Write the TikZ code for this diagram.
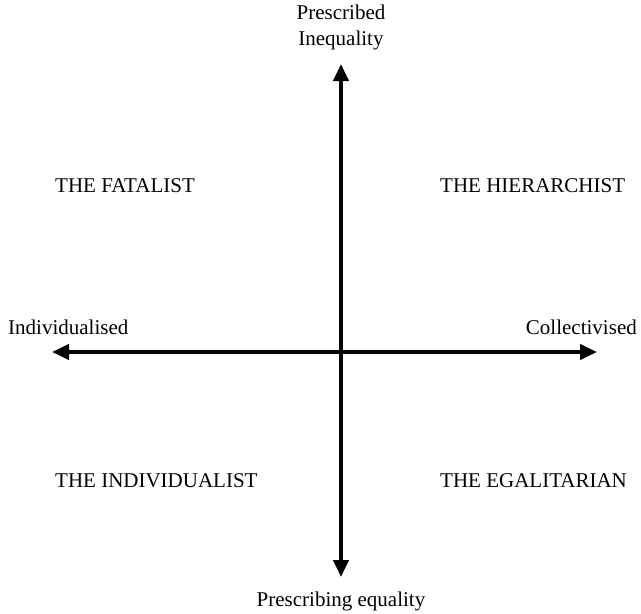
\documentclass[tikz,border=0pt]{standalone}
\usepackage{fontspec}
\setmainfont{Liberation Serif}
\usetikzlibrary{arrows.meta}
\begin{document}
\begin{tikzpicture}[
            x=1pt, y=-1pt,
            every node/.style={font=\fontsize{21}{26}\selectfont, inner sep=0pt},
            axis/.style={line width=4pt, {Triangle[length=17pt,width=15pt]}-{Triangle[length=17pt,width=15pt]}},
            quadrant/.style={anchor=west}
        ]
        \useasboundingbox (0,0) rectangle (641,614);
        \coordinate (top) at (341,64);
        \coordinate (bottom) at (341,577);
        \coordinate (left) at (52,352);
        \coordinate (right) at (597,352);
        \draw[axis] (left) -- (right);
        \draw[axis] (bottom) -- (top);
        \node[align=center] (inequality) at (341,27) {Prescribed\\Inequality};
        \node (equality) at (341,601) {Prescribing equality};
        \node[anchor=west] (individualised) at (8,327) {Individualised};
        \node[anchor=east] (collectivised) at (637,327) {Collectivised};
        \node[quadrant] (fatalist) at (55,186) {THE FATALIST};
        \node[quadrant] (hierarchist) at (440,186) {THE HIERARCHIST};
        \node[quadrant] (individualist) at (55,481) {THE INDIVIDUALIST};
        \node[quadrant] (egalitarian) at (440,481) {THE EGALITARIAN};
    \end{tikzpicture}
\end{document}
